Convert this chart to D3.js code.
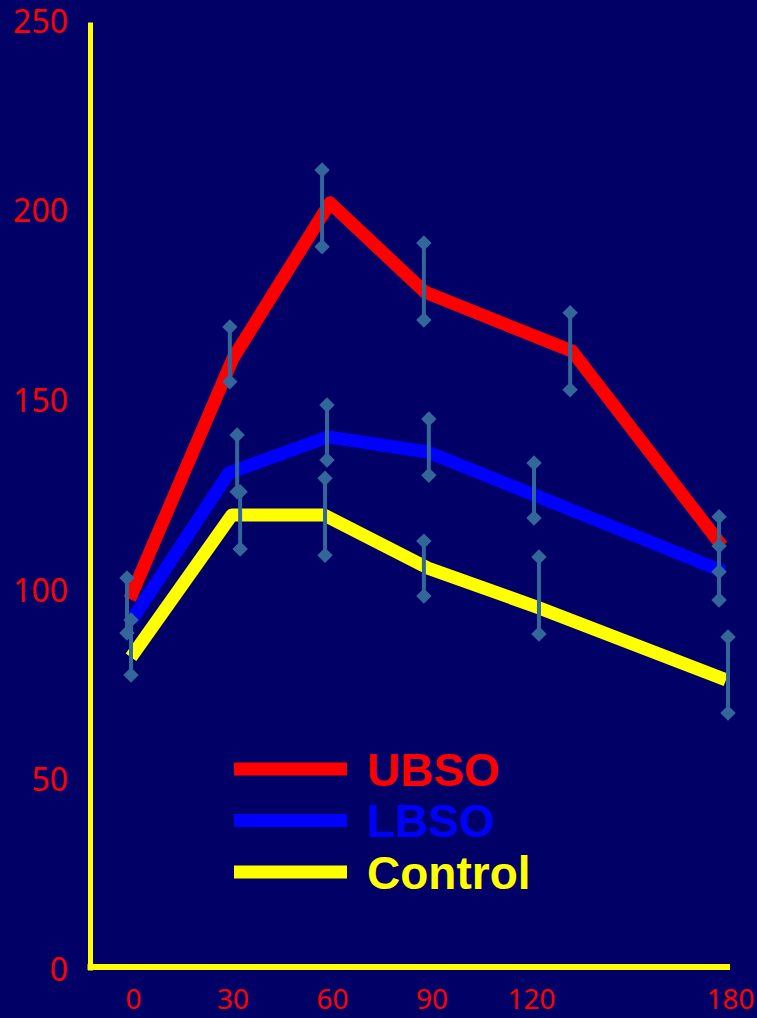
<!DOCTYPE html>
<html>
<head>
<meta charset="utf-8">
<script src="https://cdn.jsdelivr.net/npm/d3@7"></script>
<style>
  body { margin: 0; background: #000066; }
  svg { display: block; }
</style>
</head>
<body>
<div id="chart"></div>
<script>
// data (time in minutes, value)
const seriesNames = ["UBSO", "LBSO", "Control"];
const seriesColors = ["#ff0000", "#0000ff", "#ffff00"];

const ubsoTime  = [-1, 30.2, 59.4, 88.0, 132.4, 177.6];
const ubsoValue = [97.8, 161.4, 202.3, 178.8, 163.2, 111.8];

const lbsoTime  = [-0.6, 28.9, 58.8, 88.9, 120.9, 178.2];
const lbsoValue = [92.0, 131.1, 140.6, 136.6, 125.3, 105.0];

const ctrlTime  = [-0.6, 29.8, 57.6, 88.9, 121.8, 178.8];
const ctrlValue = [82.5, 120.0, 120.0, 106.0, 95.7, 76.5];

// error bars: time, low, high
const errTime = [-1.8, 29.2, 57.0, 87.7, 131.8, 176.7,
                 31.4, 58.5, 89.2, 120.9, 176.7,
                 -0.6, 32.3, 57.9, 87.7, 122.4, 179.4];
const errLow  = [88.9, 155.1, 190.7, 171.4, 153.0, 105.0,
                 126.1, 134.5, 130.5, 119.2, 97.6,
                 77.8, 111.0, 109.4, 98.6, 88.6, 67.8];
const errHigh = [103.4, 169.6, 211.0, 191.7, 173.3, 119.5,
                 141.1, 149.0, 145.3, 133.7, 111.8,
                 92.3, 126.1, 129.7, 113.1, 108.9, 87.8];

const xTicks = [0, 30, 60, 90, 120, 180];
const yTicks = [0, 50, 100, 150, 200, 250];

const W = 757, H = 1018;
const axisX = 90, axisY = 967;

const svg = d3.select("#chart").append("svg")
  .attr("width", W)
  .attr("height", H);

svg.append("rect").attr("width", W).attr("height", H).attr("fill", "#000066");

const x = d3.scaleLinear().domain([0, 180]).range([133, 730]);
const y = d3.scaleLinear().domain([0, 250]).range([970, 22]);

// Y axis
const gy = svg.append("g")
  .attr("transform", `translate(${axisX},0)`)
  .call(d3.axisLeft(y).tickValues(yTicks).tickSize(0).tickPadding(22));
gy.select(".domain").attr("stroke", "#ffff00").attr("stroke-width", 5);
gy.selectAll("text")
  .attr("fill", "#ff0000")
  .style("font-family", "'Noto Sans', sans-serif")
  .style("font-size", "32px");

// X axis
const gx = svg.append("g")
  .attr("transform", `translate(0,${axisY})`)
  .call(d3.axisBottom(x).tickValues(xTicks).tickSize(0).tickPadding(22));
gx.select(".domain").remove();
gx.selectAll("text")
  .attr("fill", "#ff0000")
  .style("font-family", "'Noto Sans', sans-serif")
  .style("font-size", "28px");

svg.append("line")
  .attr("x1", axisX - 2.5).attr("x2", x(180))
  .attr("y1", axisY).attr("y2", axisY)
  .attr("stroke", "#ffff00")
  .attr("stroke-width", 6);

// Lines
const series = [
  { name: seriesNames[0], color: seriesColors[0], pts: ubsoTime.map((t, i) => [t, ubsoValue[i]]) },
  { name: seriesNames[1], color: seriesColors[1], pts: lbsoTime.map((t, i) => [t, lbsoValue[i]]) },
  { name: seriesNames[2], color: seriesColors[2], pts: ctrlTime.map((t, i) => [t, ctrlValue[i]]) }
];

const line = d3.line().x(d => x(d[0])).y(d => y(d[1]));

svg.selectAll(".series")
  .data(series)
  .enter()
  .append("path")
    .attr("class", "series")
    .attr("d", d => line(d.pts))
    .attr("fill", "none")
    .attr("stroke", d => d.color)
    .attr("stroke-width", 13)
    .attr("stroke-linejoin", "round");

// Error bars
const errs = errTime.map((t, i) => ({ t, lo: errLow[i], hi: errHigh[i] }));
const errColor = "#336699";

svg.selectAll(".err")
  .data(errs)
  .enter()
  .append("line")
    .attr("class", "err")
    .attr("x1", d => x(d.t)).attr("x2", d => x(d.t))
    .attr("y1", d => y(d.lo)).attr("y2", d => y(d.hi))
    .attr("stroke", errColor)
    .attr("stroke-width", 4);

const diamond = d3.symbol().type(d3.symbolSquare).size(120);
const caps = errs.flatMap(d => [[d.t, d.lo], [d.t, d.hi]]);
svg.selectAll(".cap")
  .data(caps)
  .enter()
  .append("path")
    .attr("class", "cap")
    .attr("d", diamond)
    .attr("transform", d => `translate(${x(d[0])},${y(d[1])}) rotate(45)`)
    .attr("fill", errColor);

// Legend
const legend = svg.selectAll(".legend")
  .data(series)
  .enter()
  .append("g")
    .attr("class", "legend")
    .attr("transform", (d, i) => `translate(234,${769 + i * 51.5})`);

legend.append("line")
  .attr("x1", 0).attr("x2", 113)
  .attr("stroke", d => d.color)
  .attr("stroke-width", 13);

legend.append("text")
  .attr("x", 133)
  .attr("y", 0)
  .attr("dy", "0.36em")
  .attr("fill", d => d.color)
  .style("font-family", "'Liberation Sans', Arial, sans-serif")
  .style("font-weight", "bold")
  .style("font-size", "46px")
  .text(d => d.name);
</script>
</body>
</html>
